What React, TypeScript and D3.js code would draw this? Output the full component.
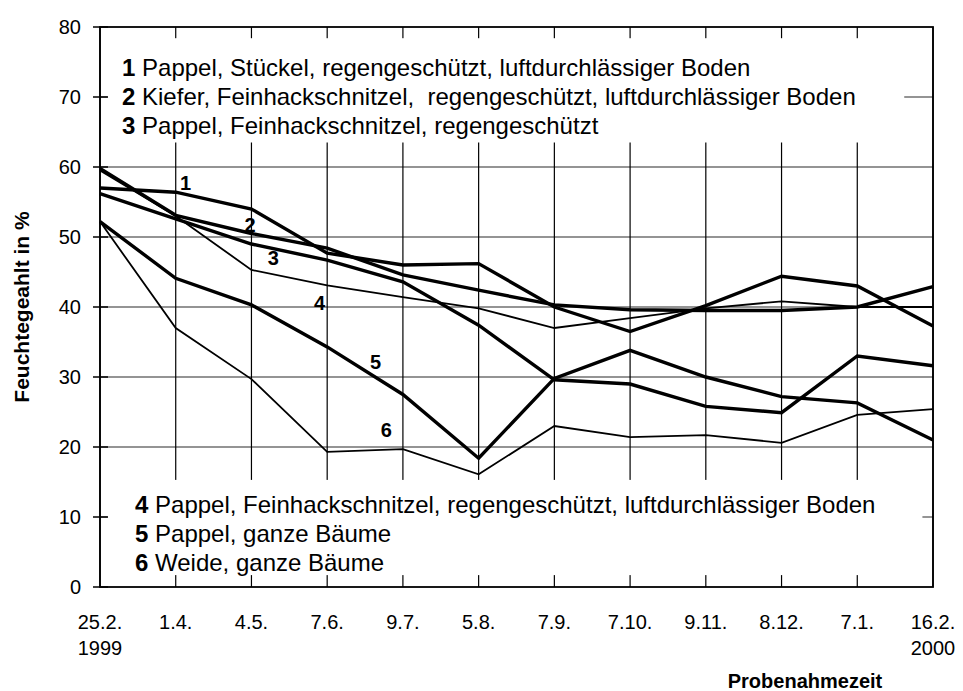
import React from "react";
import * as d3 from "d3";

const dates = ["25.2.", "1.4.", "4.5.", "7.6.", "9.7.", "5.8.", "7.9.", "7.10.", "9.11.", "8.12.", "7.1.", "16.2."];
const dateYears = ["1999", "", "", "", "", "", "", "", "", "", "", "2000"];
const yTicks = [0, 10, 20, 30, 40, 50, 60, 70, 80];

const s1 = [57.0, 56.4, 54.0, 47.7, 46.0, 46.2, 40.0, 36.5, 40.2, 44.4, 43.0, 37.3];
const s2 = [59.8, 53.1, 50.5, 48.4, 44.6, 42.4, 40.3, 39.6, 39.5, 39.5, 40.0, 42.9];
const s3 = [59.5, 53.0, 45.3, 43.1, 41.4, 39.8, 37.0, 38.4, 39.8, 40.8, 40.0, 40.0];
const s4 = [56.2, 52.6, 49.0, 46.7, 43.6, 37.4, 29.6, 29.0, 25.8, 24.9, 33.0, 31.6];
const s5 = [52.2, 44.1, 40.3, 34.3, 27.5, 18.4, 29.8, 33.8, 30.0, 27.2, 26.3, 21.0];
const s6 = [52.2, 37.0, 29.7, 19.3, 19.7, 16.1, 23.0, 21.4, 21.7, 20.6, 24.6, 25.4];

const seriesList = [s1, s2, s3, s4, s5, s6];
const seriesThick = [true, true, false, true, true, false];

const legendTop = [
  ["1", "Pappel, Stückel, regengeschützt, luftdurchlässiger Boden"],
  ["2", "Kiefer, Feinhackschnitzel,  regengeschützt, luftdurchlässiger Boden"],
  ["3", "Pappel, Feinhackschnitzel, regengeschützt"],
];
const legendBottom = [
  ["4", "Pappel, Feinhackschnitzel, regengeschützt, luftdurchlässiger Boden"],
  ["5", "Pappel, ganze Bäume"],
  ["6", "Weide, ganze Bäume"],
];

// line number annotations: [label, category position, value]
const lineLabels: [string, number, number][] = [
  ["1", 1.13, 57.7],
  ["2", 1.98, 51.7],
  ["3", 2.29, 47.0],
  ["4", 2.9, 40.6],
  ["5", 3.64, 32.2],
  ["6", 3.78, 22.4],
];

const W = 963;
const H = 691;
const FONT = "'Liberation Sans', Arial, sans-serif";

export default function App() {
  const x = d3.scaleLinear().domain([0, 11]).range([100, 933]);
  const y = d3.scaleLinear().domain([0, 80]).range([587, 27]);
  const line = d3
    .line<number>()
    .x((_, i) => x(i))
    .y((d) => y(d));

  return (
    <svg
      width={W}
      height={H}
      style={{ position: "absolute", left: 0, top: 0, background: "#fff" }}
      fontFamily={FONT}
    >
      <rect x={0} y={0} width={W} height={H} fill="#fff" />
      {/* horizontal grid */}
      {yTicks.slice(1, 8).map((t) => (
        <line key={"h" + t} x1={x(0)} x2={x(11)} y1={y(t)} y2={y(t)} stroke="#707070" strokeWidth={1.6} />
      ))}
      {/* vertical grid */}
      {dates.map((_, i) => (
        <line key={"v" + i} x1={x(i)} x2={x(i)} y1={y(0)} y2={y(80)} stroke="#000" strokeWidth={1.2} />
      ))}
      {/* legend boxes (white) */}
      <rect x={x(0.1)} y={y(78.4)} width={x(10.62) - x(0.1)} height={y(63.5) - y(78.4)} fill="#fff" />
      <rect x={x(0.1)} y={y(15.3)} width={x(10.86) - x(0.1)} height={y(1.7) - y(15.3)} fill="#fff" />
      {/* frame */}
      <rect x={x(0)} y={y(80)} width={x(11) - x(0)} height={y(0) - y(80)} fill="none" stroke="#000" strokeWidth={1.8} />
      {/* y ticks */}
      {yTicks.map((t) => (
        <g key={"yt" + t}>
          <line x1={x(0) - 7} x2={x(0) + 8} y1={y(t)} y2={y(t)} stroke="#000" strokeWidth={1.5} />
          <text x={x(0) - 19} y={y(t)} dy="0.36em" textAnchor="end" fontSize={20} fill="#000">
            {t}
          </text>
        </g>
      ))}
      {/* x labels */}
      {dates.map((d, i) => (
        <g key={"xl" + i}>
          <text x={x(i)} y={629} textAnchor="middle" fontSize={20} fill="#000">
            {d}
          </text>
          {dateYears[i] && (
            <text x={x(i)} y={655} textAnchor="middle" fontSize={20} fill="#000">
              {dateYears[i]}
            </text>
          )}
        </g>
      ))}
      <text x={805} y={688} textAnchor="middle" fontSize={20} fontWeight="bold" fill="#000">
        Probenahmezeit
      </text>
      <text
        transform={`translate(29,${y(40)}) rotate(-90)`}
        textAnchor="middle"
        fontSize={21}
        fontWeight="bold"
        fill="#000"
      >
        Feuchtegeahlt in %
      </text>
      {/* series lines */}
      {seriesList.map((s, k) => (
        <path
          key={"s" + k}
          d={line(s) || ""}
          fill="none"
          stroke="#000"
          strokeWidth={seriesThick[k] ? 3.4 : 1.8}
          strokeLinejoin="miter"
        />
      ))}
      {/* line labels */}
      {lineLabels.map(([l, c, v]) => (
        <text key={"ll" + l} x={x(c)} y={y(v)} dy="0.36em" textAnchor="middle" fontSize={20} fontWeight="bold" fill="#000">
          {l}
        </text>
      ))}
      {/* legends */}
      {legendTop.map(([n, t], i) => (
        <text key={"lt" + n} x={122} y={76 + i * 29} fontSize={24} fill="#000" xmlSpace="preserve">
          <tspan fontWeight="bold">{n}</tspan>
          <tspan>{" " + t}</tspan>
        </text>
      ))}
      {legendBottom.map(([n, t], i) => (
        <text key={"lb" + n} x={135} y={513 + i * 29} fontSize={24} fill="#000" xmlSpace="preserve">
          <tspan fontWeight="bold">{n}</tspan>
          <tspan>{" " + t}</tspan>
        </text>
      ))}
    </svg>
  );
}
